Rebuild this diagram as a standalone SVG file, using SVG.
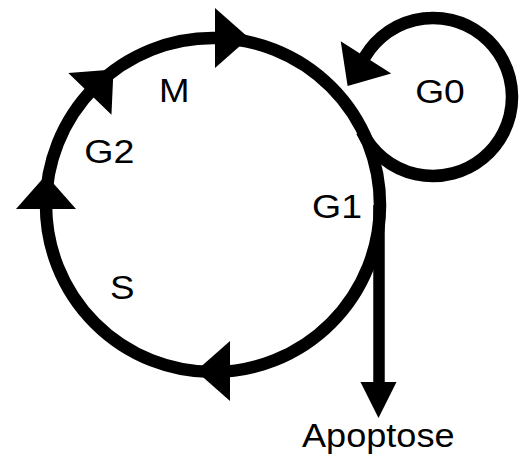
<svg xmlns="http://www.w3.org/2000/svg" xmlns:xlink="http://www.w3.org/1999/xlink" width="519" height="455" viewBox="0 0 519 455">
<style>
.ln{fill:none;stroke:#000;stroke-width:12.5}
.lbl{font-family:"Liberation Sans",Arial,sans-serif;font-size:33px;fill:#000}
</style>
<defs>
<path id="ah" d="M0,0 L-34,-30 L-34,30 Z" fill="#000"/>
<path id="ah2" d="M0,0 L-36,-18 L-36,18 Z" fill="#000"/>
</defs>
<rect width="519" height="455" fill="#fff"/>
<g id="connectors">
<circle class="ln" cx="213" cy="205" r="167"/>
<path class="ln" d="M362,131.6 A79,79 0 1 0 361.4,63.6"/>
<line x1="379" y1="205" x2="379" y2="388" stroke="#000" stroke-width="11.5"/>
<use xlink:href="#ah" transform="translate(249,38)"/>
<use xlink:href="#ah" transform="translate(113.5,69.5) rotate(-46)"/>
<use xlink:href="#ah" transform="translate(46,175) rotate(-90)"/>
<use xlink:href="#ah" transform="translate(196,371) rotate(180)"/>
<use xlink:href="#ah" transform="translate(347.6,86) rotate(122.7)"/>
<use xlink:href="#ah2" transform="translate(378.5,418) rotate(90)"/>
</g>
<g id="node-M"><text class="lbl" x="159" y="101.5" textLength="30.5" lengthAdjust="spacingAndGlyphs">M</text></g>
<g id="node-G2"><text class="lbl" x="84.2" y="163" textLength="50.2" lengthAdjust="spacingAndGlyphs">G2</text></g>
<g id="node-G1"><text class="lbl" x="312" y="218" textLength="50" lengthAdjust="spacingAndGlyphs">G1</text></g>
<g id="node-G0"><text class="lbl" x="415.2" y="103" textLength="49.6" lengthAdjust="spacingAndGlyphs">G0</text></g>
<g id="node-S"><text class="lbl" x="110" y="299" textLength="24.5" lengthAdjust="spacingAndGlyphs">S</text></g>
<g id="node-Apoptose"><text class="lbl" x="302" y="447" textLength="152.5" lengthAdjust="spacingAndGlyphs">Apoptose</text></g>
</svg>
